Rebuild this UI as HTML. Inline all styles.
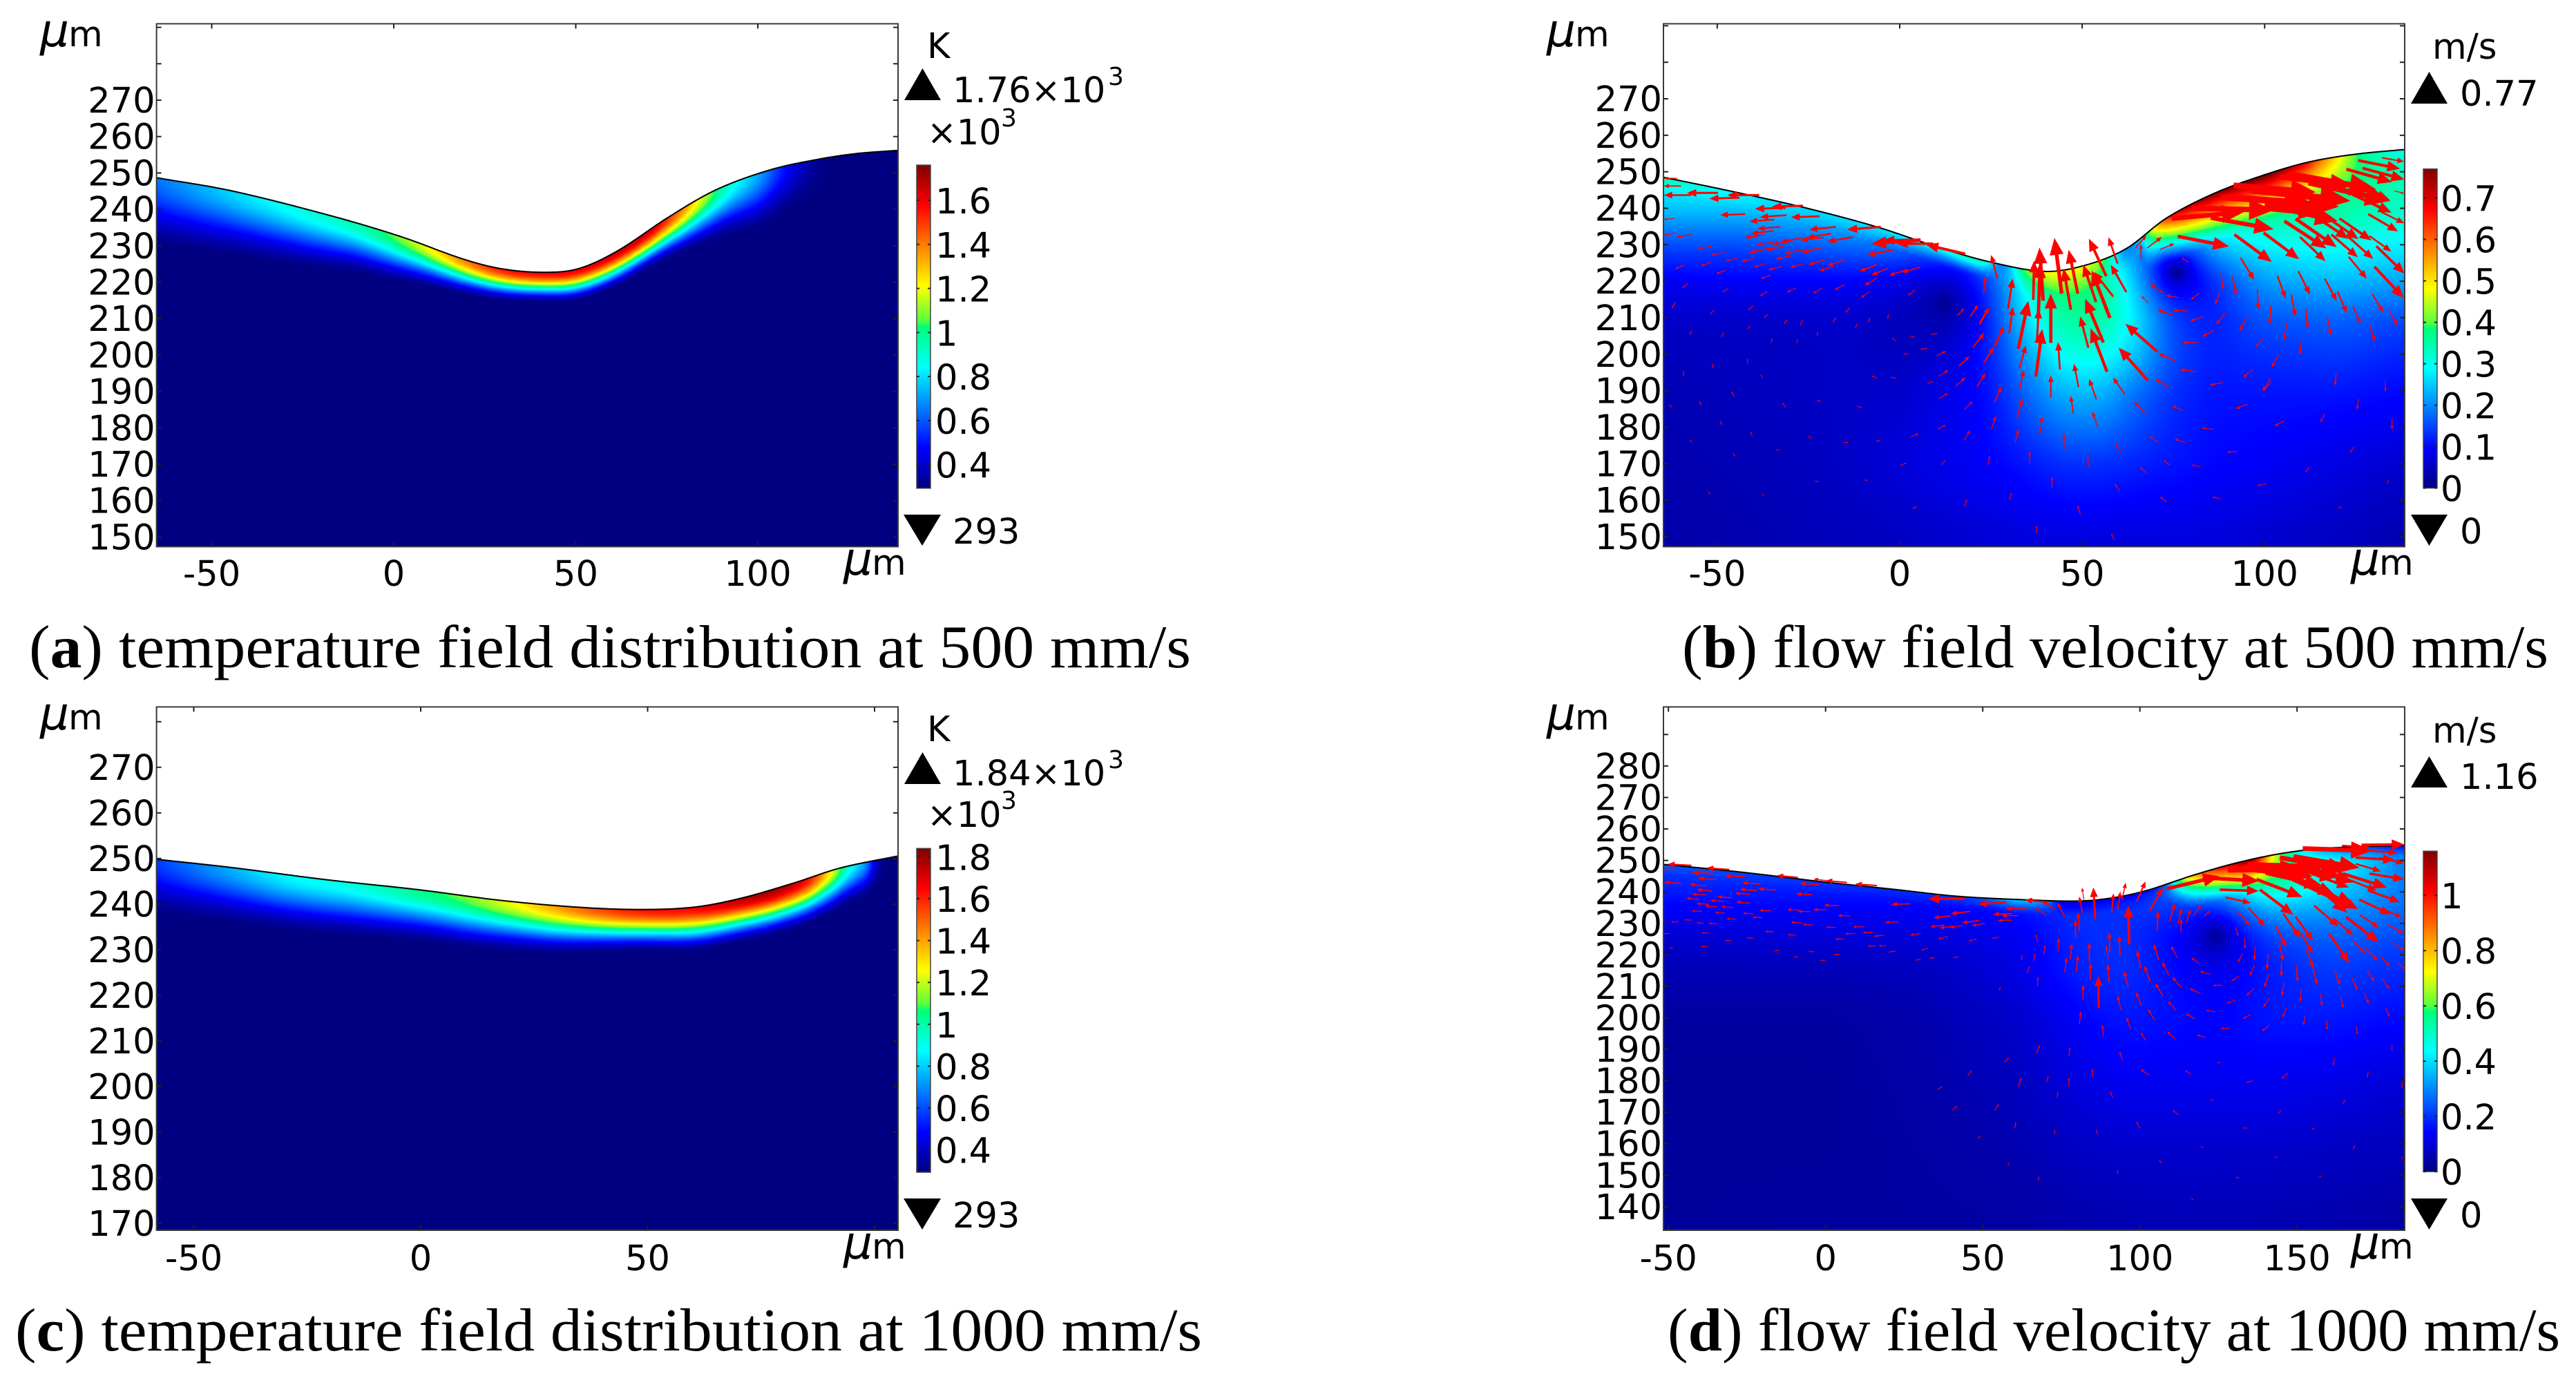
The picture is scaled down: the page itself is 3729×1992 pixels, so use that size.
<!DOCTYPE html>
<html lang="en">
<head>
<meta charset="utf-8">
<title>Temperature and flow field distributions</title>
<style>
html,body{margin:0;padding:0;background:#fff;}
#stage{position:relative;width:3729px;height:1992px;overflow:hidden;background:#fff;}
canvas{position:absolute;display:block;}
svg{position:absolute;left:0;top:0;}
.lbl{font-family:"DejaVu Sans","Liberation Sans",sans-serif;font-size:51px;fill:#000;}
.sup{font-family:"DejaVu Sans","Liberation Sans",sans-serif;font-size:36px;fill:#000;}
.mu{font-family:"DejaVu Sans","Liberation Sans",sans-serif;font-size:66px;font-style:italic;fill:#000;}
.cap{font-family:"Liberation Serif",serif;font-size:88px;fill:#000;}
</style>
</head>
<body>
<div id="stage">
<canvas id="field-a"></canvas>
<canvas id="field-b"></canvas>
<canvas id="field-c"></canvas>
<canvas id="field-d"></canvas>
<svg id="chart" width="3729" height="1992" viewBox="0 0 3729 1992" xmlns="http://www.w3.org/2000/svg">
  <defs id="defs"></defs>
  <g>
    <text class="mu" x="58" y="67">μ</text>
    <text class="lbl" x="99" y="67">m</text>
    <text class="mu" x="1221" y="832">μ</text>
    <text class="lbl" x="1262" y="832">m</text>
    <text class="lbl" x="1342" y="84">K</text>
    <polygon points="1309,145 1362,145 1335.5,99" fill="#000"></polygon>
    <text class="lbl" x="1379" y="148">1.76×10</text>
    <text class="sup" x="1604" y="123">3</text>
    <text class="lbl" x="1342" y="209">×10</text>
    <text class="sup" x="1449" y="183">3</text>
    <polygon points="1308,745 1362,745 1335,790" fill="#000"></polygon>
    <text class="lbl" x="1379" y="787">293</text>
    <text class="cap" x="42" y="966" textLength="1682" lengthAdjust="spacingAndGlyphs">(<tspan font-weight="bold">a</tspan>) temperature field distribution at 500 mm/s</text>
  </g>
  <g>
    <text class="mu" x="2239" y="67">μ</text>
    <text class="lbl" x="2280" y="67">m</text>
    <text class="mu" x="3403" y="832">μ</text>
    <text class="lbl" x="3444" y="832">m</text>
    <text class="lbl" x="3521" y="85">m/s</text>
    <polygon points="3490,150 3543,150 3516.5,104" fill="#000"></polygon>
    <text class="lbl" x="3561" y="153">0.77</text>
    <polygon points="3490,745 3543,745 3516.5,790" fill="#000"></polygon>
    <text class="lbl" x="3561" y="787">0</text>
    <text class="cap" x="2435" y="966" textLength="1254" lengthAdjust="spacingAndGlyphs">(<tspan font-weight="bold">b</tspan>) flow field velocity at 500 mm/s</text>
  </g>
  <g>
    <text class="mu" x="58" y="1056">μ</text>
    <text class="lbl" x="99" y="1056">m</text>
    <text class="mu" x="1221" y="1822">μ</text>
    <text class="lbl" x="1262" y="1822">m</text>
    <text class="lbl" x="1342" y="1073">K</text>
    <polygon points="1309,1135 1362,1135 1335.5,1089" fill="#000"></polygon>
    <text class="lbl" x="1379" y="1137">1.84×10</text>
    <text class="sup" x="1604" y="1112">3</text>
    <text class="lbl" x="1342" y="1197">×10</text>
    <text class="sup" x="1449" y="1171">3</text>
    <polygon points="1308,1735 1362,1735 1335,1780" fill="#000"></polygon>
    <text class="lbl" x="1379" y="1777">293</text>
    <text class="cap" x="22" y="1955" textLength="1718" lengthAdjust="spacingAndGlyphs">(<tspan font-weight="bold">c</tspan>) temperature field distribution at 1000 mm/s</text>
  </g>
  <g>
    <text class="mu" x="2239" y="1056">μ</text>
    <text class="lbl" x="2280" y="1056">m</text>
    <text class="mu" x="3403" y="1822">μ</text>
    <text class="lbl" x="3444" y="1822">m</text>
    <text class="lbl" x="3521" y="1075">m/s</text>
    <polygon points="3490,1140 3543,1140 3516.5,1095" fill="#000"></polygon>
    <text class="lbl" x="3561" y="1142">1.16</text>
    <polygon points="3490,1735 3543,1735 3516.5,1780" fill="#000"></polygon>
    <text class="lbl" x="3561" y="1777">0</text>
    <text class="cap" x="2414" y="1955" textLength="1292" lengthAdjust="spacingAndGlyphs">(<tspan font-weight="bold">d</tspan>) flow field velocity at 1000 mm/s</text>
  </g>
</svg>
</div>
<script>
/* ---------- Data (micrometres, kelvin, m/s) ---------- */
const surfaceXA=[-65.2,-44.6,-17.1,2,18.9,29.5,41.1,50.7,61.3,76,88.8,103.6,116.3,126.9,138.5];
const surfaceYA=[248.7,245.1,238.2,232.5,226.4,223.7,222.7,223.7,228.5,238.2,245.5,250.9,253.7,255.3,256.2];
const tempXA=[-65,-45,-25,-10,0,10,20,30,40,50,60,70,78,85,92,100,108,116,122,139];
const tempSurfaceA=[640,780,880,950,1060,1220,1400,1540,1580,1600,1640,1640,1420,1150,900,720,480,330,293,293];
const tempDepthA=[20,19,17,14.5,13.5,11.5,10,9,8.5,9,10,11,12.5,14,15,16,14,10,8,8];

const surfaceXC=[-58.1,-41.6,-21.3,-0.1,17.7,34.7,48.3,60.1,70.3,82.2,92.4,105];
const surfaceYC=[249.8,248,245.4,243.1,240.8,239.3,238.8,239.3,241.2,244.6,247.9,250.5];
const tempXC=[-58,-45,-30,-15,0,10,20,30,40,50,60,70,78,85,90,94,98,100,102,105];
const tempSurfaceC=[580,720,860,920,1040,1120,1250,1400,1540,1620,1650,1740,1780,1640,1300,950,700,450,300,293];
const tempDepthC=[13,13,13,12.5,12,12,11.5,11,10,9.5,10,10,10.5,10.5,10,9,8,7,6,6];

const surfaceXB=[-64.8,-48.7,-26.6,-6.3,10.3,25.1,39.9,50.9,62,73.1,86,98.9,111.8,124.8,138.4];
const surfaceYB=[248.5,245.2,240.3,234.9,229.4,225.2,222.7,224.4,228.9,237.3,244,248.8,252.6,254.8,256.1];
const gridColsB=[-65,-45,-30,-15,0,15,25,35,45,55,65,75,85,100,120,138];
const gridRowsB=[150,170,190,200,210,220,230,240,250,260];
const speedGridB=[
[.03,.035,.04,.045,.05,.06,.065,.07,.07,.07,.07,.07,.07,.06,.05,.035],
[.035,.04,.045,.055,.07,.085,.095,.11,.13,.13,.12,.11,.1,.09,.075,.06],
[.04,.045,.05,.055,.06,.085,.11,.18,.24,.24,.18,.13,.11,.11,.11,.1],
[.045,.05,.05,.055,.05,.08,.13,.23,.31,.31,.25,.15,.12,.13,.14,.12],
[.055,.055,.055,.06,.05,.07,.15,.29,.37,.37,.29,.16,.12,.16,.17,.15],
[.085,.09,.09,.09,.09,.1,.18,.33,.41,.39,.28,.14,.14,.22,.24,.22],
[.15,.15,.16,.18,.2,.2,.22,.3,.4,.35,.2,.2,.27,.29,.3,.28],
[.25,.25,.26,.27,.28,.25,.25,.3,.4,.35,.3,.36,.38,.38,.36,.33],
[.3,.3,.3,.3,.3,.3,.3,.3,.4,.35,.35,.4,.4,.4,.4,.34],
[.3,.3,.3,.3,.3,.3,.3,.3,.4,.35,.35,.4,.4,.4,.4,.34]];
const layerXB=[-65,-50,-30,-10,10,22,28,35,45,55,62,66,68,72,78,90,100,110,115,120,126,132,138];
const layerSpeedB=[.35,.3,.26,.27,.3,.36,.2,.42,.5,.42,.2,.25,.4,.6,.72,.77,.79,.7,.6,.5,.38,.33,.3];
const layerDepthB=[5,5,5,5,5,5,5,8,8,8,6,6,10,12,14,14,14,14,13,12,10,8,8];
const coresB=[[76,222.5,6,.97],[12,214,8,.85]];

const surfaceXD=[-51.6,-26.6,-0.9,22.7,42,63.4,80.6,91.3,102,117,129.9,142.7,155.6,168.5,184.3];
const surfaceYD=[248.75,246.25,243.2,240.7,238.6,237.5,237.1,238.1,240.4,245.3,249,251.8,253.6,254.3,254.7];
const gridColsD=[-52,0,30,60,80,95,110,125,140,160,184];
const gridRowsD=[135,160,180,200,215,225,235,245,255];
const speedGridD=[
[.03,.035,.035,.04,.05,.055,.06,.06,.055,.05,.04],
[.03,.03,.04,.055,.08,.09,.09,.09,.09,.08,.07],
[.03,.03,.045,.07,.11,.13,.13,.13,.13,.12,.1],
[.035,.035,.05,.085,.14,.17,.16,.15,.17,.17,.15],
[.06,.06,.07,.11,.18,.2,.17,.15,.18,.21,.19],
[.09,.1,.1,.12,.19,.2,.17,.17,.22,.25,.22],
[.14,.14,.14,.16,.2,.2,.22,.28,.38,.33,.27],
[.2,.2,.2,.22,.22,.22,.32,.55,.65,.45,.28],
[.22,.22,.22,.24,.22,.22,.36,.6,.65,.5,.28]];
const layerXD=[-52,0,30,50,62,70,76,90,100,108,112,116,122,128,135,139,142,146,152,160,175,184];
const layerSpeedD=[.25,.2,.2,.25,.38,.3,.1,.13,.14,.25,.55,.78,.95,1.05,1.15,.95,.75,.58,.42,.3,.2,.15];
const layerDepthD=[4,4,4,4,5,5,5,5,6,6,8,10,11,11,11,11,10,10,8,6,5,4];
const coresD=[[124,226,8,.9]];

const yTicksA=[150,160,170,180,190,200,210,220,230,240,250,260,270];
const yTicksMinorA=[280,290];
const xTicksA=[-50,0,50,100];
const yTicksC=[170,180,190,200,210,220,230,240,250,260,270];
const yTicksMinorC=[280];
const xTicksC=[-50,0,50];
const xTicksMinorC=[100];
const yTicksD=[140,150,160,170,180,190,200,210,220,230,240,250,260,270,280];
const yTicksMinorD=[290];
const xTicksD=[-50,0,50,100,150];
const barTicksAC1=[0.4,0.6,0.8,1,1.2,1.4,1.6];
const barTicksC2=[0.4,0.6,0.8,1,1.2,1.4,1.6,1.8];
const barTicksB=[0,0.1,0.2,0.3,0.4,0.5,0.6,0.7];
const barTicksD=[0,0.2,0.4,0.6,0.8,1];

/* flow arrows: [tail x µm, tail y µm, u m/s, v m/s] */
const arrowsB=[
[-60.9,248.2,-.15,0],[-59.9,246.1,-.19,0],[-57.1,243.6,-.3,0],[-49.8,244.2,-.34,0],[-43.9,242.9,-.33,-.01],[-38.5,243.6,-.35,0],
[-26.5,240.7,-.34,-.01],[-31.2,240.1,-.34,-.01],[-42.4,238.4,-.27,-.01],[-31,238.1,-.29,-.02],[-22,237.8,-.31,-.01],[-34.4,236.9,-.27,-.02],
[-61.7,237.2,-.12,-.01],[-32.7,234.9,-.25,-.02],[-34.7,233.8,-.24,-.03],[-37.2,232.7,-.21,-.03],[-17.5,234.9,-.29,-.03],[-5.2,234.9,-.37,-.03],
[-61.2,233.3,-.14,-.03],[-57.2,232.8,-.16,-.03],[-18.9,233,-.26,-.04],[-20.9,232,-.25,-.03],[-26.8,231.8,-.23,-.04],[-12.9,232.1,-.28,-.05],
[-29.7,231.1,-.21,-.04],[-34.7,230.7,-.18,-.03],[5.7,231.4,-.41,-.01],[5.7,231.3,-.54,-.04],[9.2,230.3,-.4,0],[18,227.5,-.43,.1],
[-1.9,228.6,-.28,-.06],[-31.9,229.6,-.19,-.04],[-36,229,-.21,-.05],[-21.3,229.2,-.22,-.05],[-26.6,228.6,-.2,-.04],[-51.6,229.6,-.15,-.03],
[-48.1,227.9,-.14,-.03],[-29.7,227,-.17,-.04],[-39.9,226.3,-.14,-.04],[-44.5,226.3,-.13,-.03],[-51.6,225.2,-.12,-.04],[-36.5,224.9,-.14,-.04],
[-20.6,225.8,-.18,-.05],[-15.1,225.8,-.19,-.06],[-26.3,224.8,-.15,-.04],[-18,224.1,-.16,-.05],[-32.4,224.1,-.14,-.04],[-59.1,224.4,-.1,-.04],
[-47.8,223,-.1,-.04],[-6.3,224.5,-.19,-.07],[-3.2,223.5,-.18,-.07],[5.7,223.9,-.2,-.06],[1.6,223.1,-.18,-.06],[-35.3,221.7,-.11,-.04],
[-6.3,220.9,-.13,-.08],[26.8,220.7,-.07,.26],[23,216.6,.02,.19],[-15.1,219.1,-.11,-.06],[-28.4,218.2,-.1,-.05],[-21.3,218.1,-.1,-.06],
[-57.9,219.4,-.07,-.05],[-46.9,218,-.07,-.04],[-36.3,217.2,-.08,-.05],[-8.2,217.2,-.1,-.07],[4.2,217.6,-.08,-.06],[-61.5,214.1,-.04,-.06],
[-50.8,212.1,-.05,-.05],[-40.1,213.3,-.06,-.05],[-13.7,212.8,-.05,-.06],[19.4,210.3,.08,.13],[15.9,210.6,.07,.08],[22,208.2,.1,.18],
[20.2,202,.11,.15],[26,202.3,.1,.21],[23,197.5,.11,.17],[16.3,196.7,.11,.11],[10.2,199.6,.1,.05],[-36.1,210.9,-.05,-.04],
[-26.6,209.4,-.03,-.06],[-30.8,209.5,-.04,-.05],[-17.4,210.1,-.04,-.06],[-41,207.8,-.03,-.04],[-56.9,206.5,-.03,-.05],[-48.2,205.9,-.03,-.05],
[-22.4,206.2,-.01,-.05],[-11.7,208.3,-.02,-.05],[-8.2,210,-.015,-.055],[-3,211,-.015,-.055],[-35,204.3,-.01,-.05],[-28,204,-.01,-.045],
[8.5,205.4,.075,.012],[5.7,201.4,.075,.01],[1,200.1,.06,-.005],[2.9,205,.06,-.02],[-2,204.4,.04,-.03],
[29.7,212.5,.05,.33],[36.6,214.9,.01,.43],[39.3,214.7,-.04,.58],[38,211.3,.02,.55],[44.4,216.6,-.08,.61],[46.9,212.2,-.08,.45],
[48.8,216.6,-.1,.48],[53.8,214.3,-.14,.41],[58.5,215.8,-.21,.27],[56.6,221.4,-.19,.41],[57.6,209.9,-.2,.52],[59.7,224.8,-.1,.29],
[62.1,217,-.17,.3],[64.6,229.1,.12,.14],[66.1,226.1,0,.16],[41.4,203.1,0,.54],[37.6,203.8,.02,.345],[32.5,201.5,.11,.525],
[30,205.7,.04,.29],[26.2,202.2,.09,.22],[21.8,208.4,.1,.17],[19.3,210.3,.08,.125],[15.8,210.6,.07,.075],[20.1,201.9,.12,.15],
[23,197.5,.11,.175],[16.3,196.9,.11,.1],[10.1,199.6,.1,.05],[10.6,193.9,.11,.07],[15.2,191.1,.11,.1],[21.1,191,.095,.15],
[32.8,196.1,.07,.25],[37.3,193.9,.07,.52],[43.9,195.8,-.02,.3],[51.7,201.8,-.09,.34],[55.8,203.2,-.2,.48],[56.8,195.2,-.18,.475],
[32.8,190.4,.05,.21],[26,186.8,.075,.17],[41.4,188.2,0,.24],[49,191,-.05,.255],[53.9,187.6,-.08,.225],[61.7,189,-.13,.185],
[70.6,200.7,-.35,.305],[68,192.8,-.32,.36],[73.9,190.9,-.16,.095],[75.5,198.2,-.185,.08],[81.1,195.2,-.17,.025],[88.6,192.2,-.145,-.025],
[96.8,195.8,-.11,-.09],[101.8,192.2,-.1,-.095],[103.9,199.9,-.08,-.14],
[32.1,182.6,.06,.21],[38.6,178.2,.015,.19],[31.6,175.8,.04,.145],[25.1,179.4,.05,.145],[17.7,176.4,.06,.11],[3,177.3,.09,.04],
[10.4,179.4,.09,.05],[17.7,184.8,.09,.09],[10.7,187.8,.1,.06],[47.6,183.6,-.03,.2],[54.3,180,-.06,.17],[67.2,183.9,-.12,.125],
[77.7,184.6,-.125,.05],[86,179.4,-.13,.015],[95.3,186.3,-.13,-.05],[105.4,181.8,-.11,-.06],[116.5,183.6,-.05,-.09],[125.7,187.8,-.015,-.12],
[133.1,192.7,0,-.12],[119.6,195,-.015,-.145],[101.7,193.3,-.09,-.135],[134.9,182.4,0,-.12],[45,174,0,.17],[35.6,170.1,0,.13],
[24.2,169.7,.02,.1],[51.9,169.1,-.02,.12],[60.7,172.8,-.06,.11],[70.9,175.8,-.095,.07],[78.3,175.8,-.12,.04],[92.5,173.4,-.11,-.01],
[124.4,174.6,-.04,-.07],[11.3,169.7,.05,.05],[.2,169.5,.065,.03],[67.6,167.5,-.07,.06],[74,169.7,-.07,.05],[82.3,169.1,-.09,.025],
[41.7,163.3,0,.12],[30.1,160.1,.02,.08],[17.7,158.3,.03,.08],[3.5,157.6,.05,.03],[49.5,156.1,-.03,.1],[60.2,162.5,-.05,.08],
[73.1,159.5,-.07,.06],[87.9,160.4,-.09,.02],[37.5,150.8,0,.09],[58.7,149.2,-.03,.07],[100.4,164.5,-.1,-.02],[112.3,169.1,-.05,-.06],
[121.1,158.3,-.04,-.025],[134,165.5,-.02,-.04],
[-59.2,194.1,0,.06],[-51.1,196.3,-.015,.05],[-41.7,197.5,0,.06],[-37.6,193.5,-.02,.04],[-45.4,188.4,-.03,.06],[-54.3,186,-.03,.05],
[-48.7,180.6,-.02,.05],[-40.4,177.6,-.02,.05],[-31.2,185.4,-.04,.05],[-21.6,187,-.05,.02],[-10.3,185.4,-.06,.015],[-24.2,177,-.04,.025],
[-14,175.8,-.06,0],[-5.3,176.4,-.05,-.01],[-33,173.7,-.04,.01],[-57,175.8,-.02,.035],[-45,172,-.03,.035],[-52,161.6,-.02,.035],
[-37.3,161.3,-.015,.025],[-22.3,165,-.04,.015],[-8.7,165.5,-.04,0],[-62.6,185.4,-.02,.035],[-6.3,193.5,-.06,.025],[7.6,192,.07,.025],[-.9,193.5,-.07,.005],
[74.5,237.2,.79,.07],[85.2,237.4,.69,-.125],[91.5,246.3,.9,-.075],[93.1,242.8,1.09,-.095],[98.4,242.5,.65,-.16],[106.6,249.4,.96,-.17],
[104.1,248.5,.8,-.09],[122.4,250.7,.5,-.14],[125.6,253.1,.46,-.09],[132.2,253.8,.24,-.04],[126.8,251,.46,-.125],[135.5,244.8,.11,-.03],
[124,246.3,.41,-.16],[124,243.8,.43,-.2],[128.4,238.4,.325,-.19],[131.9,239,.255,-.125],[120.5,237.2,.35,-.24],[116.7,237.8,.36,-.25],
[113.3,238.1,.39,-.26],[98.1,240,.64,-.06],[105.4,236.5,.46,-.3],[108.5,237.1,.45,-.31],[99.7,233.3,.39,-.29],[91.7,232.8,.41,-.3],
[76.2,232.3,.56,-.11],[67.8,229.1,.16,.12],[71.3,228.7,.16,.065],[93.4,226.4,.15,-.24],[103.5,221.5,.09,-.245],[109.2,222.8,.13,-.26],
[116.5,220.7,.13,-.245],[109.7,232.1,.28,-.265],[118.3,232.8,.29,-.25],[123,232.1,.27,-.24],[123,226.7,.2,-.24],[128.7,232.4,.24,-.17],
[130.6,229.6,.31,-.3],[130.1,224,.32,-.345],[120,217.2,.1,-.235],[124.2,213.3,.08,-.2],[129.5,216.5,.12,-.2],[134.1,212,.095,-.17],
[128.7,208.1,.06,-.18],[117.2,210.3,.04,-.205],[111.3,212.4,.02,-.215],[107.3,216.3,.045,-.24],[101.7,213.3,-.015,-.205],[98,217.8,.01,-.22],
[106,208.6,-.025,-.19],[91.2,221.3,.04,-.2],[88,222,.025,-.17],[87.7,217.1,-.05,-.14],[89.2,211.1,-.1,-.115],[95.1,210.2,-.08,-.155],
[82,216.7,-.09,-.07],[72.2,216.8,-.145,.1],[76.4,215.5,-.14,.025],[75.2,210.6,-.18,.06],[78.9,211.9,-.16,.005],[83.3,210.3,-.15,-.05],
[86.3,206.5,-.14,-.065],[68.1,214,-.075,.08],[81.6,203.2,-.17,0],[79.2,225.3,-.08,.04],[99.4,204.4,-.07,-.1],[110.1,204,-.02,-.17],
[80,240,.9,-.02],[88,243,1,-.06],[96,245,1.1,-.12],[100,241,.8,-.18],[112,247,.9,-.2]
];
const arrowsD=[
[82.2,237.5,-.03,.19],[81.8,233.1,-.055,.27],[85.8,231.4,-.03,.5],[91,233.5,.03,.3],[92.9,234.3,.045,.29],[94.3,237.5,.06,.27],
[99,237,.14,.315],[103.1,234,.21,.37],[108.5,241,.84,.2],[125.4,240.7,.62,-.02],[127.2,238.3,.4,-.09],[137.1,244,.73,-.28],
[128,246.9,1.19,.02],[134.2,248.7,1.23,-.04],[144.5,250.9,1.1,-.2],[151.8,253.8,1.1,-.035],[148.9,251.3,1.05,-.18],[164.3,254.7,.44,-.025],
[170.9,254.9,.66,.01],[173.1,253.1,.44,-.036],[168.7,250.9,.62,-.036],[168.7,248.9,.4,-.116],[176,250.9,.4,-.09],[173,245.8,.55,-.09],
[164.6,245.8,.7,-.22],[166.8,243.8,.42,-.17],[172.7,240.4,.5,-.18],[169.8,237.6,.5,-.24],[177.5,234.5,.29,-.127],[170,232.7,.3,-.2],
[165.6,232,.52,-.4],[178.9,229.7,.24,-.14],[180.4,224,.18,-.127],[167.8,224.6,.2,-.21],[172,222,.18,-.19],[176.6,219.5,.15,-.16],
[181.9,217.6,.13,-.116],[161.9,215,.09,-.23],[167.4,212.8,.09,-.2],[172.2,215.2,.12,-.185],[177.2,212.3,.11,-.156],[171.4,208,.07,-.18],
[178.2,203.2,.06,-.14],[163.9,206.8,.04,-.19],[157.5,207.7,.02,-.2],[151.3,209.2,-.01,-.21],[159.5,199.3,0,-.16],[168.9,197.3,.015,-.135],
[152.7,200.8,-.035,-.16],[146.7,203.2,-.07,-.156],[145.9,211.1,-.035,-.207],[141,213.7,-.07,-.2],[141.2,206.2,-.1,-.145],[136.3,209.4,-.12,-.12],
[140.8,220.2,-.02,-.25],[136.6,222.6,-.01,-.22],[136.4,216.6,-.07,-.16],[145,218,0,-.25],[144.3,224,.066,-.3],[143.2,229.3,.17,-.34],
[145.6,233.1,.275,-.39],[149.5,232.1,.28,-.38],[151.1,227.1,.195,-.33],[153,221.6,.11,-.29],[155.1,216,.066,-.28],[149.8,216.4,.02,-.25],
[155.5,235.6,.385,-.33],[162,231.4,.29,-.26],[160.2,226.8,.32,-.465],[154,243.6,.6,-.51],[148.1,244.4,1.06,-.49],[158.4,240.7,.55,-.31],
[154.7,245.8,.59,-.22],[138.2,240.7,.53,-.4],[134.6,234.9,.26,-.29],[131.3,233.6,.18,-.21],[130.4,228.8,.045,-.145],[133.3,225.5,.01,-.18],
[132.7,220.4,-.08,-.14],[131.6,213.3,-.12,-.08],[126.1,210.4,-.147,-.007],[122.3,213.8,-.16,.05],[119,217.1,-.13,.1],[111.9,219.1,-.1,.19],
[109.3,213.5,-.11,.21],[106,218.4,-.08,.25],[100.3,215.7,-.06,.29],[103.3,211.5,-.095,.25],[113.1,209.7,-.14,.16],[107.3,207,-.12,.2],
[119,207.8,-.16,.076],[130.5,205.5,-.147,-.044],[124,201.9,-.15,.025],[135.3,201,-.13,-.065],[141.2,197.7,-.117,-.1],[128.6,196.7,-.147,-.004],
[120.9,193.7,-.14,.047],[117.5,199.7,-.147,.083],[111.5,202.4,-.13,.145],[104.7,199.2,-.106,.18],[100.5,203.8,-.088,.218],[96.3,209.5,-.066,.27],
[94,202.5,-.055,.23],[90.2,211.3,-.018,.29],[89.9,218.6,-.03,.22],[93.7,219.8,-.018,.31],[96.6,223.3,-.015,.617],[90.4,220.8,-.007,.316],
[83.9,217.9,0,.3],[79.8,214.6,.026,.26],[84.2,212,.007,.27],[86.9,203,-.007,.51],[81.8,205.7,.01,.24],[79.5,225.5,0,.28],[80.8,227.5,-.026,.3],
[105.5,227.7,.015,.31],[109.5,230.7,.08,.28],[112.1,229.8,.06,.25],[113.1,227.1,0,.22],[114.8,230.2,.066,.21],[117.1,232.4,.12,.17],[120.3,232.2,.1,.09],
[80.8,198,.018,.2],[88.4,194,-.018,.19],[97,196.3,-.058,.19],[101.8,192.8,-.073,.127],[111.1,193.3,-.12,.12],
[73.7,174.7,.01,.1],[91.3,174.7,-.04,.1],[103,181.7,-.14,.1],[116.3,182.1,-.1,.06],[125.6,185.8,-.06,0],[135.8,180,-.1,-.03],[147,182.4,-.1,-.09],
[162,187.2,-.03,-.12],[172.7,183,-.02,-.1],[180.2,191.4,0,-.1],[183.4,179.6,0,-.1],[165.2,174,-.03,-.07],[144.9,170.6,-.05,-.055],[123.4,174,-.05,-.01],
[112.3,169.2,-.09,.07],[99.9,165,-.05,.1],[86.6,163,-.03,.08],[73,163,-.01,.08],[60.2,165,.02,.1],[48.4,161.6,.05,.05],[40.3,170.6,.08,.07],
[53.8,170.6,.07,.1],[61.3,178.2,.05,.14],[70.3,179.6,.03,.1],[77.4,178.2,0,.14],[84.9,181,0,.14],[67.1,188.6,.05,.14],[77.4,187.9,.02,.14],
[94.5,186.5,-.05,.14],[57,185.8,.07,.08],[45.2,181.7,.07,.08],[35.6,177.2,.08,.05],[120.2,158.8,-.05,.02],[134.1,165,-.07,0],[155.6,165,-.05,-.03],
[143.8,156,-.05,-.03],[168.4,159.5,-.03,-.07],[183.4,156,0,-.05],[107,153.9,-.05,.05],[93,150.4,-.01,.07],[67.7,148.3,.01,.07],[58,153.2,.02,.05],
[117,142.1,-.04,.035],[131.6,149.2,-.06,.007],[157.7,149.7,-.04,-.02],
[-42.7,248.4,-.38,.02],[-30.6,247.1,-.365,.025],[-47.7,247,-.19,.01],[-35.5,245.8,-.36,.02],[-25.7,244.8,-.32,.02],[-8.8,244.6,-.335,.03],
[-34.7,243.9,-.3,.02],[6.8,243,-.335,.03],[.97,243.5,-.24,.03],[16.4,242,-.35,.025],[-46,242.7,-.27,.02],[-37.9,241.9,-.27,.025],
[-20.8,242.5,-.29,.02],[-2,242.3,-.31,.02],[-36,240.3,-.25,.02],[-21.9,240.4,-.27,.02],[-16,240.6,-.27,.02],[-37.9,239,-.23,.015],
[-29.7,238.1,-.235,.02],[-24,239.2,-.24,.02],[-4.2,239.1,-.26,.015],[-40.1,237.6,-.21,.02],[-32.3,237,-.22,.015],[-24,236.4,-.22,.02],
[-37,236,-.2,.015],[-34.4,235.3,-.2,.015],[-29.3,235,-.2,.02],[44.3,237.8,-.58,0],[57.5,236.7,-.45,-.03],[73.1,234.4,-.22,.14],
[71,236.7,-.38,.036],[64,234.6,-.34,.007],[70.3,232.5,-.18,.12],[76.1,232.1,-.117,.225],[26.9,236.2,-.3,-.007],[4.3,235.6,-.24,.01],
[46,233.8,-.31,-.036],[39.8,232.4,-.27,-.03],[59.3,233.1,-.3,-.01],[61.2,232.5,-.26,-.004],[59.2,231,-.22,-.007],[48.8,230.9,-.27,-.036],
[50.7,230,-.21,-.036],[43.8,229.4,-.21,-.036],[41,229.1,-.24,-.025],[37.7,229.5,-.22,-.03],[23.1,230.5,-.21,-.01],[7.9,232.4,-.2,.004],
[.3,234.3,-.21,.004],[-4.8,233.7,-.2,.007],[-8.2,234.2,-.2,.01],[-17.3,234,-.19,.007],[-20.1,231.8,-.16,.01],[-22.9,232.9,-.17,.02],
[-28.6,231.3,-.15,.01],[-32,233.2,-.16,.015],[-39.4,233.8,-.16,.01],[-34.5,229.9,-.14,.007],[-38.7,230,-.12,.01],[-42.5,231,-.12,.007],
[-46.8,230.5,-.12,0],[-7.7,230.2,-.165,.01],[-4,229.5,-.165,.01],[3.3,228.7,-.16,.004],[12.3,228.9,-.18,0],[15.1,227.2,-.165,-.007],
[9.4,226.8,-.16,-.007],[18.4,226.2,-.15,-.015],[30.3,226.8,-.17,-.025],[39,225.8,-.16,-.036],[48.1,225,-.13,-.03],[55.3,225.6,-.12,-.015],
[5.8,225.1,-.14,-.007],[-9.5,226.3,-.13,.007],[-16.4,227.3,-.14,.007],[-22.9,225.3,-.11,.007],[-30,224.5,-.1,.004],[-37.1,226.9,-.12,.007],
[-49.7,226.8,-.09,-.004],[19.3,223,-.12,-.01],[16,222.9,-.126,-.01],[32.5,222,-.11,-.025],[22.3,221.2,-.117,-.018],[4.5,220.2,-.1,-.01],
[-3.6,221,-.095,0],[-14.7,221.3,-.087,.004],[-37.7,222.6,-.095,0],[-48.6,222.3,-.065,-.01],[-8.8,219.4,-.075,0],[0,218.3,-.087,-.004],
[30.3,218.6,-.087,-.018],[34.7,219.2,-.087,-.018],[42.3,219.4,-.087,-.02],
[67.4,210,.01,.15],[64.2,214.2,.035,.116],[62.3,218.2,.013,.09],[66.2,218,.02,.12],[69.4,220.2,.02,.15],[74,221.1,.01,.21],
[76.1,214.4,.03,.236],[67.5,224,-.03,.127],[77.9,218.6,.02,.25],[55.3,208.8,.02,.06],
[120,244.5,.9,-.05],[135,247,1,-.1],[142,248,1.1,-.15],[150,249,.9,-.3],[146,246,.8,-.35],[140,246,.9,-.2]
];

/* ---------- Rendering ---------- */
const SVGNS='http://www.w3.org/2000/svg';
const chart=document.getElementById('chart');
const defs=document.getElementById('defs');

const cmStops=[[0,0,0,128],[.125,0,0,255],[.375,0,255,255],[.5,0,255,120],[.52,90,255,60],[.625,255,255,0],[.875,255,0,0],[1,128,0,0]];
const lut=new Uint8ClampedArray(3*1025);
for(let i=0;i<=1024;i++){
  const f=i/1024;let k=0;
  while(k<cmStops.length-2&&f>cmStops[k+1][0])k++;
  const a=cmStops[k],b=cmStops[k+1],t=(f-a[0])/(b[0]-a[0]);
  for(let c=0;c<3;c++)lut[3*i+c]=a[c+1]+(b[c+1]-a[c+1])*t;
}
function interp(xs,ys,x){
  const n=xs.length;
  if(x<=xs[0])return ys[0];
  if(x>=xs[n-1])return ys[n-1];
  let i=0;while(x>xs[i+1])i++;
  const h=xs[i+1]-xs[i],t=(x-xs[i])/h;
  const m0=i>0?(ys[i+1]-ys[i-1])/(xs[i+1]-xs[i-1]):(ys[i+1]-ys[i])/h;
  const m1=i<n-2?(ys[i+2]-ys[i])/(xs[i+2]-xs[i]):(ys[i+1]-ys[i])/h;
  const t2=t*t,t3=t2*t;
  return (2*t3-3*t2+1)*ys[i]+(t3-2*t2+t)*h*m0+(-2*t3+3*t2)*ys[i+1]+(t3-t2)*h*m1;
}
function gridVal(cols,rows,grid,x,y){
  x=Math.min(cols[cols.length-1],Math.max(cols[0],x));
  y=Math.min(rows[rows.length-1],Math.max(rows[0],y));
  let i=0;while(i<cols.length-2&&x>cols[i+1])i++;
  let j=0;while(j<rows.length-2&&y>rows[j+1])j++;
  const u=(x-cols[i])/(cols[i+1]-cols[i]),v=(y-rows[j])/(rows[j+1]-rows[j]);
  return (1-u)*(1-v)*grid[j][i]+u*(1-v)*grid[j][i+1]+(1-u)*v*grid[j+1][i]+u*v*grid[j+1][i+1];
}
function boxBlur(a,w,h,r){
  const tmp=new Float32Array(a.length);
  for(let y=0;y<h;y++)for(let x=0;x<w;x++){
    let s=0,c=0;for(let k=-r;k<=r;k++){const q=x+k;if(q>=0&&q<w){s+=a[y*w+q];c++;}}
    tmp[y*w+x]=s/c;
  }
  for(let y=0;y<h;y++)for(let x=0;x<w;x++){
    let s=0,c=0;for(let k=-r;k<=r;k++){const q=y+k;if(q>=0&&q<h){s+=tmp[q*w+x];c++;}}
    a[y*w+x]=s/c;
  }
}

const panels=[
 {id:'a',L:226.6,R:1300,T:34.4,B:791.4,xo:570,xs:5.27,yr:145,yrv:270,ys:5.27,
  sx:surfaceXA,sy:surfaceYA,tx:tempXA,ts:tempSurfaceA,td:tempDepthA,range:[293,1760],
  yT:yTicksA,yM:yTicksMinorA,xT:xTicksA,xM:[],xBase:848,
  bar:{x:1327,w:20,lo:.293,hi:1.76,v0:.4,p0:672.7,per:318.9,ticks:barTicksAC1,lx:1354}},
 {id:'b',L:2408,R:3481,T:34.4,B:791.4,xo:2750,xs:5.283,yr:143,yrv:270,ys:5.283,
  sx:surfaceXB,sy:surfaceYB,gc:gridColsB,gr:gridRowsB,gv:speedGridB,lx:layerXB,ls:layerSpeedB,ld:layerDepthB,cores:coresB,range:[0,.77],
  arrows:arrowsB,K:25,yT:yTicksA,yM:yTicksMinorA,xT:xTicksA,xM:[],xBase:848,
  bar:{x:3508,w:20,lo:0,hi:.77,v0:0,p0:706.6,per:600,ticks:barTicksB,lx:3533}},
 {id:'c',L:226.6,R:1300,T:1023.4,B:1781,xo:609,xs:6.57,yr:1110.8,yrv:270,ys:6.6,
  sx:surfaceXC,sy:surfaceYC,tx:tempXC,ts:tempSurfaceC,td:tempDepthC,range:[293,1840],
  yT:yTicksC,yM:yTicksMinorC,xT:xTicksC,xM:xTicksMinorC,xBase:1839,
  bar:{x:1327,w:20,lo:.293,hi:1.84,v0:.4,p0:1664.6,per:303,ticks:barTicksC2,lx:1354}},
 {id:'d',L:2408,R:3481,T:1023.4,B:1781,xo:2642.7,xs:4.55,yr:1108.9,yrv:280,ys:4.557,
  sx:surfaceXD,sy:surfaceYD,gc:gridColsD,gr:gridRowsD,gv:speedGridD,lx:layerXD,ls:layerSpeedD,ld:layerDepthD,cores:coresD,range:[0,1.16],
  arrows:arrowsD,K:20,yT:yTicksD,yM:yTicksMinorD,xT:xTicksD,xM:[],xBase:1839,
  bar:{x:3508,w:20,lo:0,hi:1.16,v0:0,p0:1696.2,per:400,ticks:barTicksD,lx:3533}}
];

function drawField(p){
  const x0=Math.round(p.L),y0=Math.round(p.T),W=Math.round(p.R)-x0,H=Math.round(p.B)-y0;
  const cv=document.getElementById('field-'+p.id);
  cv.width=W;cv.height=H;cv.style.left=x0+'px';cv.style.top=y0+'px';
  cv.style.width=W+'px';cv.style.height=H+'px';
  const ctx=cv.getContext('2d'),img=ctx.createImageData(W,H),d=img.data;
  const invX=px=>(px-p.xo)/p.xs,invY=py=>p.yrv-(py-p.yr)/p.ys;
  const colX=new Float32Array(W),surf=new Float32Array(W),sv=new Float32Array(W),dp=new Float32Array(W);
  for(let i=0;i<W;i++){
    const X=invX(x0+i+.5);colX[i]=X;surf[i]=interp(p.sx,p.sy,X);
    if(p.ts){sv[i]=interp(p.tx,p.ts,X);dp[i]=interp(p.tx,p.td,X);}
    else{sv[i]=interp(p.lx,p.ls,X);dp[i]=interp(p.lx,p.ld,X);}
  }
  let coarse=null,cw=0,ch=0;const step=4;
  if(p.gv){
    cw=Math.ceil(W/step)+2;ch=Math.ceil(H/step)+2;coarse=new Float32Array(cw*ch);
    for(let j=0;j<ch;j++)for(let i=0;i<cw;i++){
      coarse[j*cw+i]=gridVal(p.gc,p.gr,p.gv,invX(x0+i*step),invY(y0+j*step));
    }
    boxBlur(coarse,cw,ch,4);boxBlur(coarse,cw,ch,4);
  }
  const rLo=p.range[0],rSpan=p.range[1]-p.range[0];
  for(let j=0;j<H;j++){
    const Y=invY(y0+j+.5);
    for(let i=0;i<W;i++){
      const dist=surf[i]-Y;
      if(dist<-.2)continue;
      let val;const s=dist/dp[i];
      if(p.ts){
        const t=s>=1?0:1-Math.max(0,s);
        val=293+(sv[i]-293)*t*t*(3-2*t);
      }else{
        const fx=i/step,fy=j/step,ix=Math.floor(fx),iy=Math.floor(fy),u=fx-ix,v=fy-iy;
        let g=(1-u)*(1-v)*coarse[iy*cw+ix]+u*(1-v)*coarse[iy*cw+ix+1]+(1-u)*v*coarse[(iy+1)*cw+ix]+u*v*coarse[(iy+1)*cw+ix+1];
        for(const c of p.cores){
          const dx=colX[i]-c[0],dy=Y-c[1];
          g*=1-c[3]*Math.exp(-Math.sqrt(dx*dx+dy*dy)/c[2]);
        }
        const w=s>=1?0:Math.pow(1-Math.max(0,s),1.5);
        val=g+(sv[i]-g)*w;
      }
      const f=Math.max(0,Math.min(1,(val-rLo)/rSpan)),k=Math.round(f*1024)*3,o=(j*W+i)*4;
      d[o]=lut[k];d[o+1]=lut[k+1];d[o+2]=lut[k+2];
      d[o+3]=255*Math.min(1,(dist+.2)*p.ys);
    }
  }
  ctx.putImageData(img,0,0);
}

function drawAxes(p){
  const X=v=>p.xo+p.xs*v,Y=v=>p.yr+(p.yrv-v)*p.ys;
  const g=document.createElementNS(SVGNS,'g');
  
  
  chart.appendChild(g);

  const clip=document.createElementNS(SVGNS,'clipPath');
  clip.setAttribute('id','clip-'+p.id);
  const cr=document.createElementNS(SVGNS,'rect');
  cr.setAttribute('x',p.L);cr.setAttribute('y',p.T);cr.setAttribute('width',p.R-p.L);cr.setAttribute('height',p.B-p.T);
  clip.appendChild(cr);defs.appendChild(clip);

  /* melt surface */
  let dStr='';
  for(let px=p.L;px<=p.R+.01;px+=4){
    const v=(px-p.xo)/p.xs;
    dStr+=(dStr?'L':'M')+px.toFixed(1)+' '+Y(interp(p.sx,p.sy,v)).toFixed(2);
  }
  const sp=document.createElementNS(SVGNS,'path');
  sp.setAttribute('d',dStr);sp.setAttribute('fill','none');sp.setAttribute('stroke','#000');sp.setAttribute('stroke-width','2');
  sp.setAttribute('clip-path','url(#clip-'+p.id+')');
  
  
  g.appendChild(sp);

  /* arrows */
  if(p.arrows){
    const ag=document.createElementNS(SVGNS,'g');
    ag.setAttribute('clip-path','url(#clip-'+p.id+')');
    
    
    g.appendChild(ag);
    for(const a of p.arrows){
      const x1=X(a[0]),y1=Y(a[1]),x2=X(a[0]+a[2]*p.K),y2=Y(a[1]+a[3]*p.K);
      const dx=x2-x1,dy=y2-y1,L=Math.hypot(dx,dy);if(L<1)continue;
      const ux=dx/L,uy=dy/L,nx=-uy,ny=ux;
      const sw=Math.max(.6,L*.033),hl=L*.3,hw=L*.125;
      const bx=x2-ux*hl,by=y2-uy*hl;
      const pts=[[x1+nx*sw,y1+ny*sw],[bx+nx*sw,by+ny*sw],[bx+nx*hw,by+ny*hw],[x2,y2],[bx-nx*hw,by-ny*hw],[bx-nx*sw,by-ny*sw],[x1-nx*sw,y1-ny*sw]];
      const el=document.createElementNS(SVGNS,'polygon');
      el.setAttribute('points',pts.map(q=>q[0].toFixed(1)+','+q[1].toFixed(1)).join(' '));
      el.setAttribute('fill','#ff0000');
      
      
      ag.appendChild(el);
    }
  }

  /* frame */
  const fr=document.createElementNS(SVGNS,'rect');
  fr.setAttribute('x',p.L);fr.setAttribute('y',p.T);fr.setAttribute('width',p.R-p.L);fr.setAttribute('height',p.B-p.T);
  fr.setAttribute('fill','none');fr.setAttribute('stroke','#3a3a3a');fr.setAttribute('stroke-width','2');
  
  
  g.appendChild(fr);

  const tick=(x1,y1,x2,y2)=>{
    const t=document.createElementNS(SVGNS,'line');
    t.setAttribute('x1',x1);t.setAttribute('y1',y1);t.setAttribute('x2',x2);t.setAttribute('y2',y2);
    t.setAttribute('stroke','#222');t.setAttribute('stroke-width','2');
    
    
    g.appendChild(t);
  };
  for(const v of p.yT.concat(p.yM)){
    const y=Y(v);if(y<p.T||y>p.B)continue;
    tick(p.L,y,p.L+7,y);tick(p.R,y,p.R-7,y);
  }
  for(const v of p.xT.concat(p.xM)){
    const x=X(v);
    tick(x,p.T,x,p.T+7);tick(x,p.B,x,p.B-7);
  }
  for(const v of p.yT){
    const t=document.createElementNS(SVGNS,'text');
    t.setAttribute('class','lbl');t.setAttribute('x',p.L-2);t.setAttribute('y',Y(v)+18);t.setAttribute('text-anchor','end');
    
    
    t.textContent=String(v);g.appendChild(t);
  }
  for(const v of p.xT){
    const t=document.createElementNS(SVGNS,'text');
    t.setAttribute('class','lbl');t.setAttribute('x',X(v));t.setAttribute('y',p.xBase);t.setAttribute('text-anchor','middle');
    
    
    t.textContent=String(v);g.appendChild(t);
  }

  /* colour bar */
  const b=p.bar,BY=v=>b.p0-(v-b.v0)*b.per;
  const grad=document.createElementNS(SVGNS,'linearGradient');
  grad.setAttribute('id','cbar-'+p.id);grad.setAttribute('x1','0');grad.setAttribute('y1','1');grad.setAttribute('x2','0');grad.setAttribute('y2','0');
  for(const s of cmStops){
    const st=document.createElementNS(SVGNS,'stop');
    st.setAttribute('offset',s[0]);st.setAttribute('stop-color','rgb('+s[1]+','+s[2]+','+s[3]+')');
    grad.appendChild(st);
  }
  defs.appendChild(grad);
  const yTop=BY(b.hi),yBot=BY(b.lo);
  const r=document.createElementNS(SVGNS,'rect');
  r.setAttribute('x',b.x);r.setAttribute('y',yTop);r.setAttribute('width',b.w);r.setAttribute('height',yBot-yTop);
  r.setAttribute('fill','url(#cbar-'+p.id+')');r.setAttribute('stroke','#444');r.setAttribute('stroke-width','1.5');
  
  
  g.appendChild(r);
  for(const v of b.ticks){
    const y=BY(v);
    tick(b.x,y,b.x+4,y);tick(b.x+b.w,y,b.x+b.w-4,y);
    const t=document.createElementNS(SVGNS,'text');
    t.setAttribute('class','lbl');t.setAttribute('x',b.lx);t.setAttribute('y',y+19);
    
    
    t.textContent=String(v);g.appendChild(t);
  }
}

for(const p of panels){drawField(p);drawAxes(p);}
</script>
</body>
</html>
